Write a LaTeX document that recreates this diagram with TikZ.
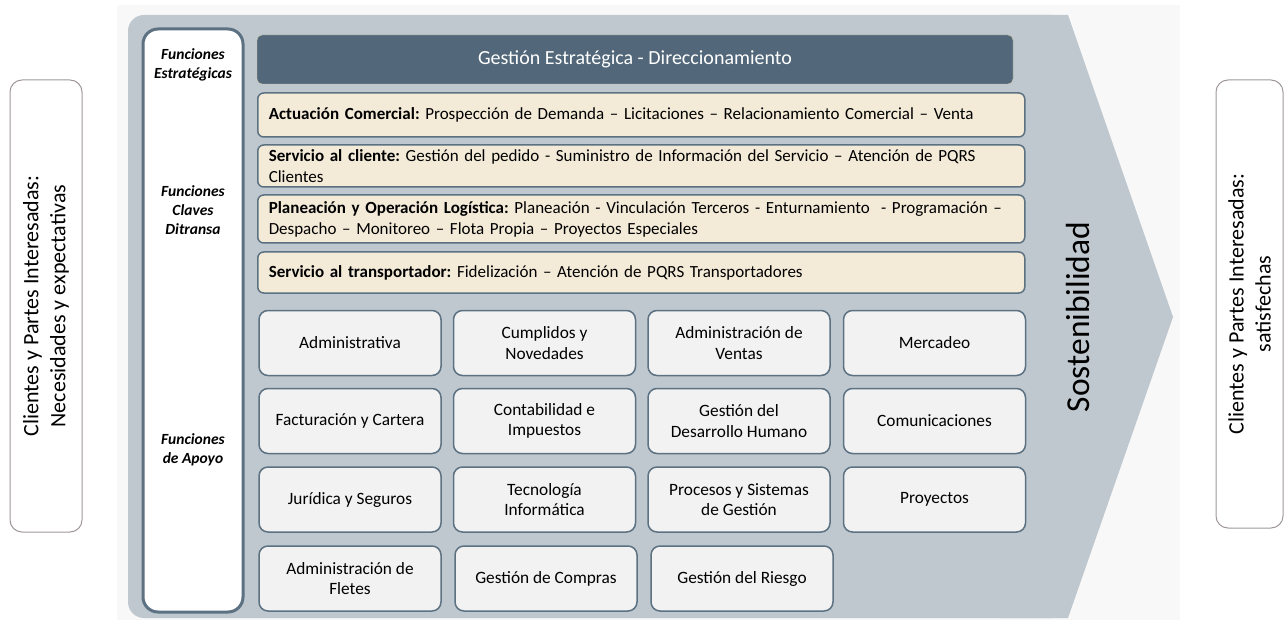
\documentclass[tikz,border=0pt]{standalone}
\usepackage{fontspec}
\setmainfont{Carlito}
\usetikzlibrary{positioning}
\frenchspacing

\definecolor{fondo}{RGB}{248,248,248}
\definecolor{flecha}{RGB}{192,200,207}
\definecolor{pizarra}{RGB}{82,104,122}
\definecolor{borde}{RGB}{92,113,130}
\definecolor{crema}{RGB}{243,234,216}
\definecolor{cajagris}{RGB}{242,242,242}
\definecolor{marco}{RGB}{160,152,152}
\definecolor{oliva}{RGB}{200,198,160}

\tikzset{
  lado/.style={draw=marco, line width=1pt, rounded corners=12pt, rotate=90, align=center,
    font=\fontsize{22}{27}\selectfont},
  funcion/.style={align=center, font=\fontsize{15.5}{19}\selectfont\bfseries\itshape},
  franja/.style={draw=borde, fill=crema, line width=1.5pt, rounded corners=6pt, anchor=west,
    text width=745pt, inner xsep=11pt, align=left, font=\fontsize{17}{21}\selectfont},
  apoyo/.style={draw=borde, fill=cajagris, line width=1.5pt, rounded corners=9pt,
    minimum width=182pt, minimum height=65pt, align=center, font=\fontsize{17.3}{20.5}\selectfont},
}

\begin{document}
\begin{tikzpicture}[x=1pt,y=-1pt]
\useasboundingbox (0,0) rectangle (1284,620);
% fondo y flecha
\fill[fondo] (117,5) rectangle (1180,620);
\fill[flecha, rounded corners=16pt] (128,15) rectangle (1068,618);
\fill[flecha] (1000,15) -- (1068,15) -- (1173,317) -- (1068,618) -- (1000,618) -- cycle;

% partes interesadas
\node[lado, minimum width=452pt, minimum height=72pt] (entrada) at (46,306)
  {Clientes y Partes Interesadas:\\Necesidades y expectativas};
\node[lado, minimum width=448pt, minimum height=67pt] (salida) at (1249.5,304)
  {Clientes y Partes Interesadas:\\satisfechas};

% columna de funciones
\draw[draw=borde, fill=white, line width=3pt, rounded corners=15pt] (143,29) rectangle (243,612);
\node[funcion] (fest) at (193,64.5) {Funciones\\Estratégicas};
\node[funcion] (fcla) at (193,210) {Funciones\\Claves\\Ditransa};
\node[funcion] (fapo) at (193,449.5) {Funciones\\de Apoyo};

% funciones estrategicas y claves
\node[draw=oliva, fill=pizarra, rounded corners=5pt, minimum width=756pt, minimum height=49pt,
  text=white, font=\fontsize{20}{24}\selectfont] (gestion) at (635,59.5)
  {Gestión Estratégica - Direccionamiento};
\node[franja, minimum height=44pt] (comercial) at (257,115)
  {\textbf{Actuación Comercial:} Prospección de Demanda – Licitaciones – Relacionamiento Comercial – Venta};
\node[franja, minimum height=42pt] (cliente) at (257,166)
  {\textbf{Servicio al cliente:} Gestión del pedido - Suministro de Información del Servicio – Atención de PQRS\\Clientes};
\node[franja, minimum height=48pt] (logistica) at (257,219)
  {\textbf{Planeación y Operación Logística:} Planeación - Vinculación Terceros - Enturnamiento\ \ - Programación –\\Despacho – Monitoreo – Flota Propia – Proyectos Especiales};
\node[franja, minimum height=41pt] (transportador) at (257,272.5)
  {\textbf{Servicio al transportador:} Fidelización – Atención de PQRS Transportadores};

% funciones de apoyo
\node[apoyo] (administrativa) at (350,343) {Administrativa};
\node[apoyo] (cumplidos) at (544.5,343) {Cumplidos y\\Novedades};
\node[apoyo] (ventas) at (739,343) {Administración de\\Ventas};
\node[apoyo] (mercadeo) at (934.5,343) {Mercadeo};
\node[apoyo] (facturacion) at (350,421) {Facturación y Cartera};
\node[apoyo] (contabilidad) at (544.5,421) {Contabilidad e\\Impuestos};
\node[apoyo] (humano) at (739,421) {Gestión del\\Desarrollo Humano};
\node[apoyo] (comunicaciones) at (934.5,421) {Comunicaciones};
\node[apoyo] (juridica) at (350,499.5) {Jurídica y Seguros};
\node[apoyo] (tecnologia) at (544.5,499.5) {Tecnología\\Informática};
\node[apoyo] (procesos) at (739,499.5) {Procesos y Sistemas\\de Gestión};
\node[apoyo] (proyectos) at (934.5,499.5) {Proyectos};
\node[apoyo] (fletes) at (350,578.5) {Administración de\\Fletes};
\node[apoyo] (compras) at (546,578.5) {Gestión de Compras};
\node[apoyo] (riesgo) at (742,578.5) {Gestión del Riesgo};

\node[rotate=90, font=\fontsize{33.5}{38}\selectfont] (sostenibilidad) at (1078,317) {Sostenibilidad};
\end{tikzpicture}
\end{document}
